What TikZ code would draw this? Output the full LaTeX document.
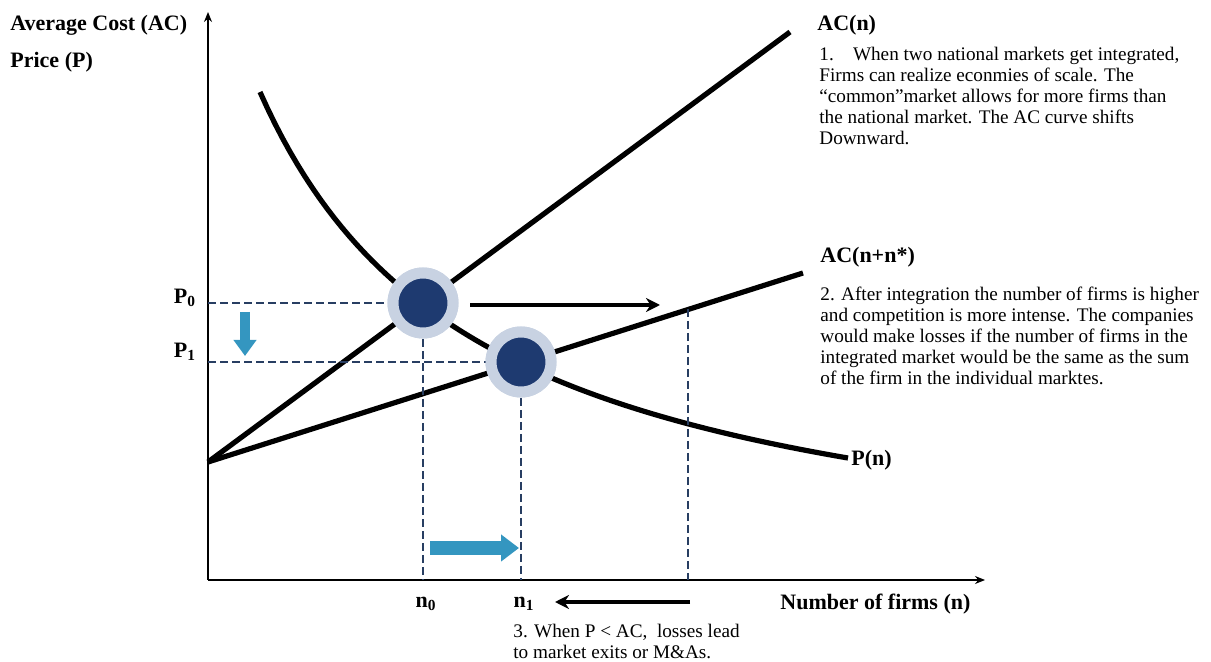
\documentclass[tikz,border=0pt]{standalone}
\usepackage{fontspec}
\setmainfont{Liberation Serif}
\usetikzlibrary{arrows.meta}
\definecolor{eqblue}{RGB}{30,58,112}
\definecolor{halo}{RGB}{200,210,226}
\definecolor{dashblue}{RGB}{40,62,98}
\definecolor{shiftblue}{RGB}{52,150,192}
\tikzset{
  curve/.style={line width=2.6pt, black},
  axis/.style={line width=0.8pt, -{Stealth[length=5pt,width=4pt]}},
  guide/.style={dashblue, line width=1pt, dash pattern=on 4pt off 2pt},
  move/.style={line width=1.6pt, -{Stealth[length=7pt,width=7pt]}},
  eqpoint/.style={circle, fill=eqblue, minimum size=30pt, inner sep=0pt,
    draw=halo, line width=5.5pt},
  lbl/.style={font=\bfseries\fontsize{11}{12}\selectfont, inner sep=0pt},
  note/.style={font=\fontsize{9.6}{10.5}\selectfont, align=left, inner sep=0pt, anchor=north west}
}
\begin{document}
\begin{tikzpicture}[x=0.5pt, y=-0.5pt]
\useasboundingbox (0,0) rectangle (1211,662);

% axes
\coordinate (O) at (208,580);
\coordinate (ytop) at (208,12);
\coordinate (xend) at (985,580);
\draw[axis] (O) -- (ytop);
\draw[axis] (O) -- (xend);

% cost curves
\coordinate (A) at (208,462);
\coordinate (acn) at (790,32);
\coordinate (acnn) at (803,273);
\draw[curve] (A) -- (acn);
\draw[curve] (A) -- (acnn);

% price curve
\draw[curve] plot[domain=260:848, samples=80] (\x, {597.2 - 1129.6/((\x-36.4)/100)});

% guide lines
\coordinate (p0) at (208,303);
\coordinate (p1) at (208,362);
\coordinate (n0) at (423,580);
\coordinate (n1) at (521,580);
\coordinate (big) at (688,580);
\coordinate (bigtop) at (688,309);
\node[eqpoint] (e0) at (423,303) {};
\node[eqpoint] (e1) at (521,362) {};
\draw[guide] (p0) -- (e0.center);
\draw[guide] (p1) -- (e1.center);
\draw[guide] (e0.center) -- (n0);
\draw[guide] (e1.center) -- (n1);
\draw[guide] (bigtop) -- (big);
% redraw circles over the guides
\node[eqpoint] at (e0) {};
\node[eqpoint] at (e1) {};

% movements
\coordinate (r0) at (470,305);
\coordinate (r1) at (660,305);
\draw[move] (r0) -- (r1);
\coordinate (l0) at (690,602);
\coordinate (l1) at (555,602);
\draw[move] (l0) -- (l1);
\coordinate (d0) at (245,312);
\coordinate (d1) at (245,356);
\draw[shiftblue, line width=5pt, -{Triangle[length=8pt,width=11pt]}] (d0) -- (d1);
\coordinate (s0) at (430,548);
\coordinate (s1) at (519,548);
\draw[shiftblue, line width=7pt, -{Triangle[length=9pt,width=13pt]}] (s0) -- (s1);

% labels
\node[lbl, anchor=west] (yl1) at (10,25) {Average Cost (AC)};
\node[lbl, anchor=west] (yl2) at (10,62) {Price (P)};
\node[lbl] (P0) at (185,298) {P\textsubscript{0}};
\node[lbl] (P1) at (185,352) {P\textsubscript{1}};
\node[lbl] (n0l) at (426,604) {n\textsubscript{0}};
\node[lbl] (n1l) at (524,604) {n\textsubscript{1}};
\node[lbl, anchor=west] (xl) at (780,604) {Number of firms (n)};
\node[lbl, anchor=west] (acl) at (817,25) {AC(n)};
\node[lbl, anchor=west] (acnl) at (820,257) {AC(n+n*)};
\node[lbl, anchor=west] (pl) at (851,460) {P(n)};

% notes
\node[note] (note1) at (819,47) {1.\quad When two national markets get integrated,\\
Firms can realize econmies of scale. The\\
``common''market allows for more firms than\\
the national market. The AC curve shifts\\
Downward.};
\node[note] (note2) at (820,287) {2. After integration the number of firms is higher\\
and competition is more intense. The companies\\
would make losses if the number of firms in the\\
integrated market would be the same as the sum\\
of the firm in the individual marktes.};
\node[note] (note3) at (513,624) {3. When P < AC,\ \ losses lead\\
to market exits or M\&As.};
\end{tikzpicture}
\end{document}
